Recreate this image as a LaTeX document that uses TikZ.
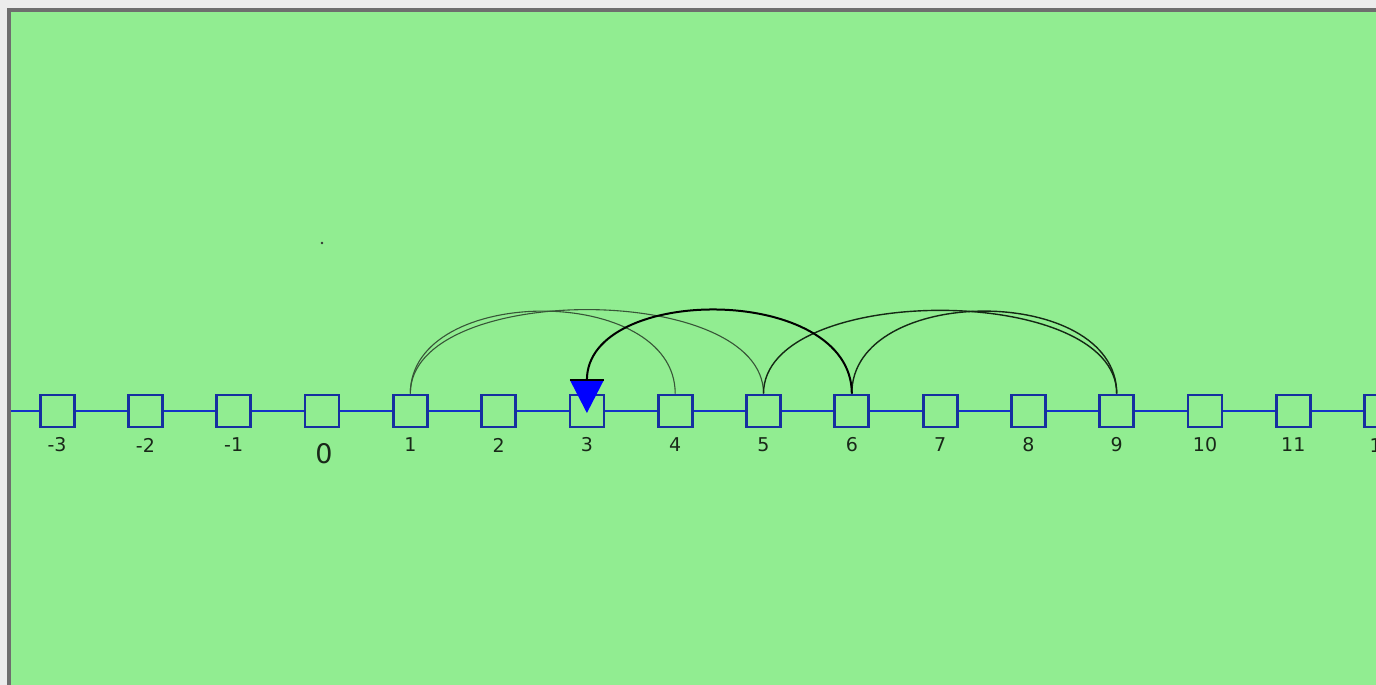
\documentclass[tikz,border=0pt]{standalone}
\usepackage{fontspec}
\setmainfont{DejaVu Sans}
\definecolor{bggreen}{RGB}{145,237,145}
\definecolor{framegrey}{RGB}{236,236,236}
\definecolor{framedark}{RGB}{110,110,110}
\definecolor{boxblue}{RGB}{22,48,160}
\definecolor{lineblue}{RGB}{20,50,200}
\definecolor{arcthin}{RGB}{55,85,55}
\definecolor{arcdark}{RGB}{20,40,20}
\definecolor{txt}{RGB}{25,40,25}
\tikzset{
  cell/.style={draw=boxblue, line width=2.8pt, minimum width=34pt, minimum height=32pt, inner sep=0pt},
  numlbl/.style={text=txt, font=\fontsize{19}{22}\selectfont, inner sep=0pt},
  zerolbl/.style={text=txt, font=\fontsize{27}{30}\selectfont, inner sep=0pt},
  axis/.style={draw=lineblue, line width=2.2pt},
  arcA/.style={draw=arcthin, line width=1.1pt},
  arcB/.style={draw=black, line width=2pt},
  arcC/.style={draw=arcdark, line width=1.4pt}
}
\begin{document}
\begin{tikzpicture}[x=1pt,y=-1pt]
\useasboundingbox (0,0) rectangle (1376,685);
\clip (0,0) rectangle (1376,685);
% window frame
\fill[framegrey] (0,0) rectangle (1376,685);
\fill[framedark] (7,8) rectangle (1376,685);
\fill[bggreen] (11,12) rectangle (1376,685);
% stray dot
\fill[black!80] (322,243) circle (1.3);
% cells
\foreach \i in {-3,...,12} {
  \node[cell] (b\i) at ({322+88.3*\i},411) {};
}
% labels
\foreach \i in {-3,-2,-1,1,2,3,4,5,6,7,8,9,10,11,12} {
  \node[numlbl] (l\i) at ({322+88.3*\i},445) {\i};
}
\node[zerolbl] (l0) at (324,454) {0};
% axis line
\coordinate (lstart) at (11,411);
\draw[axis] (lstart) -- (b-3.west);
\foreach \i [evaluate=\i as \j using int(\i+1)] in {-3,...,11} {
  \draw[axis] (b\i.east) -- (b\j.west);
}
% arcs
\draw[arcA] (b1.north) .. controls +(0,-110) and +(0,-110) .. (b4.north);
\draw[arcA] (b1.north) .. controls +(0,-112) and +(0,-112) .. (b5.north);
\draw[arcC] (b5.north) .. controls +(0,-111) and +(0,-111) .. (b9.north);
\draw[arcC] (b6.north) .. controls +(0,-110) and +(0,-110) .. (b9.north);
\coordinate (arrtop) at ({322+88.3*3},380);
\draw[arcB] (b6.north) .. controls +(0,-110) and +(0,-96) .. (arrtop);
% arrow head (pointing down)
\fill[blue] ([xshift=-17pt]arrtop) -- ([xshift=17pt]arrtop) -- ([yshift=-33pt]arrtop) -- cycle;
\draw[black, line width=2.5pt] ([xshift=-17pt]arrtop) -- ([xshift=17pt]arrtop);
\end{tikzpicture}
\end{document}
